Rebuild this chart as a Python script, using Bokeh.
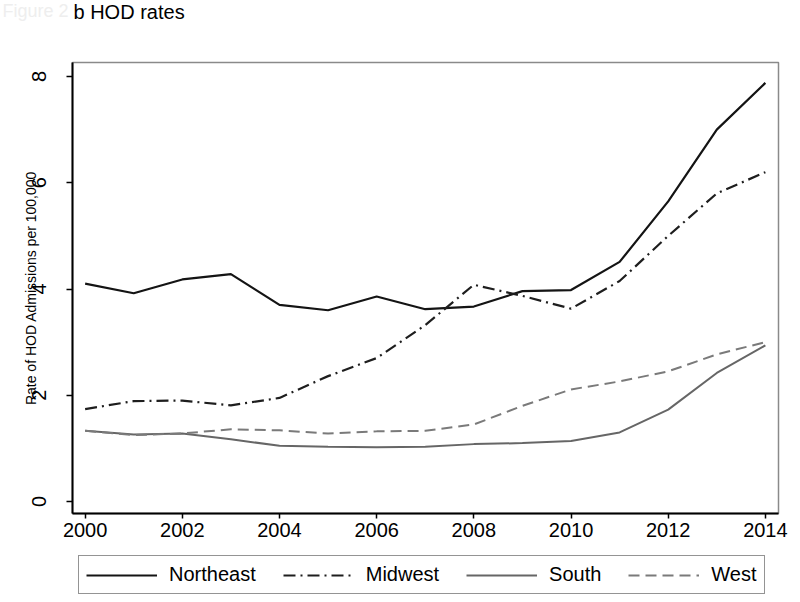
from bokeh.plotting import figure
from bokeh.layouts import column, row
from bokeh.models import Range1d, FixedTicker, Legend, LegendItem, Label
from bokeh.embed import file_html
from bokeh.resources import INLINE

years = [2000, 2001, 2002, 2003, 2004, 2005, 2006, 2007, 2008, 2009, 2010, 2011, 2012, 2013, 2014]
northeast = [4.10, 3.92, 4.18, 4.28, 3.70, 3.60, 3.86, 3.62, 3.67, 3.96, 3.98, 4.51, 5.65, 7.00, 7.88]
midwest = [1.74, 1.89, 1.90, 1.81, 1.95, 2.36, 2.70, 3.32, 4.08, 3.87, 3.63, 4.15, 5.00, 5.80, 6.20]
south = [1.33, 1.26, 1.28, 1.17, 1.05, 1.03, 1.02, 1.03, 1.08, 1.10, 1.14, 1.30, 1.73, 2.42, 2.94]
west = [1.33, 1.25, 1.28, 1.36, 1.34, 1.28, 1.32, 1.33, 1.45, 1.80, 2.11, 2.26, 2.45, 2.77, 3.00]
series_names = ["Northeast", "Midwest", "South", "West"]
x_ticks = [2000, 2002, 2004, 2006, 2008, 2010, 2012, 2014]
y_ticks = [0, 2, 4, 6, 8]

FONT = "Liberation Sans"
styles = [
    dict(line_color="#141414", line_width=2.2),
    dict(line_color="#1e1e1e", line_width=2.2, line_dash="12 5 2 5"),
    dict(line_color="#666666", line_width=2.0),
    dict(line_color="#7a7a7a", line_width=2.0, line_dash="11 6"),
]
all_series = [northeast, midwest, south, west]


def strip(h):
    fig = figure(width=800, height=h, output_backend="svg", toolbar_location=None,
                 x_range=Range1d(0, 1), y_range=Range1d(0, 1),
                 x_axis_location=None, y_axis_location=None,
                 min_border_left=0, min_border_right=0, min_border_top=0, min_border_bottom=0)
    fig.background_fill_color = "white"
    fig.border_fill_color = "white"
    fig.outline_line_color = None
    fig.grid.visible = False
    return fig


# --- title strip ---
top = strip(40)
top.add_layout(Label(x=2, y=40, x_units="screen", y_units="screen", text="Figure 2",
                     text_font=FONT, text_font_size="18px", text_color="#eeeeee",
                     text_baseline="top"))
top.add_layout(Label(x=73, y=40, x_units="screen", y_units="screen", text="b HOD rates",
                     text_font=FONT, text_font_size="20px", text_color="black",
                     text_baseline="top"))

# --- main plot ---
p = figure(width=800, height=508, output_backend="svg", toolbar_location=None,
           x_range=Range1d(1999.74, 2014.27), y_range=Range1d(-0.226, 8.264),
           min_border_left=72, min_border_right=22, min_border_top=22, min_border_bottom=35)
p.background_fill_color = "white"
p.border_fill_color = "white"
p.outline_line_color = "#8a8a8a"
p.outline_line_width = 1.5
p.grid.visible = False

for vals, st in zip(all_series, styles):
    p.line(years, vals, **st)

for ax in (p.xaxis[0], p.yaxis[0]):
    ax.axis_line_color = "black"
    ax.axis_line_width = 2
    ax.major_tick_line_color = "black"
    ax.major_tick_line_width = 1.5
    ax.major_tick_in = 0
    ax.minor_tick_line_color = None
    ax.major_label_text_font = FONT
    ax.major_label_text_font_size = "20px"
    ax.major_label_text_color = "black"

p.xaxis.major_tick_out = 5
p.yaxis.major_tick_out = 6
p.xaxis.ticker = FixedTicker(ticks=x_ticks)
p.yaxis.ticker = FixedTicker(ticks=y_ticks)
p.xaxis.major_label_standoff = 4
p.yaxis.major_label_standoff = 20
p.yaxis.major_label_orientation = "vertical"
p.yaxis.axis_label = "Rate of HOD Admissions per 100,000"
p.yaxis.axis_label_text_font = FONT
p.yaxis.axis_label_text_font_size = "14px"
p.yaxis.axis_label_text_font_style = "normal"
p.yaxis.axis_label_text_color = "black"
p.yaxis.axis_label_standoff = -9

# --- legend strip (series drawn far outside its view, used only for the key) ---
leg = strip(54)
items = []
for name, vals, st in zip(series_names, all_series, styles):
    r = leg.line(years, vals, **st)
    items.append(LegendItem(label=name, renderers=[r]))
legend = Legend(items=items, orientation="horizontal", location=(78, 8))
legend.label_text_font = FONT
legend.label_text_font_size = "20px"
legend.label_text_color = "black"
legend.glyph_width = 71
legend.glyph_height = 20
legend.label_standoff = 12
legend.spacing = 27
legend.padding = 7
legend.margin = 0
legend.border_line_color = "#2a2a2a"
legend.border_line_width = 1.5
legend.background_fill_color = "white"
legend.background_fill_alpha = 1
leg.add_layout(legend, "center")

layout = column(row(top), p, row(leg), spacing=0)
open("out.html", "w").write(file_html(layout, INLINE))
